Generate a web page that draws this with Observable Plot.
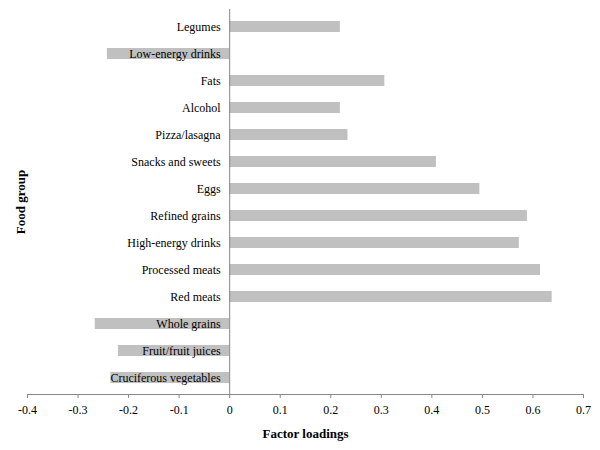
<!DOCTYPE html>
<html>
<head>
<meta charset="utf-8">
<script src="https://cdn.jsdelivr.net/npm/d3@7"></script>
<script src="https://cdn.jsdelivr.net/npm/@observablehq/plot@0.6"></script>
<style>
  html, body { margin: 0; padding: 0; background: #fff; }
  #chart { width: 600px; height: 450px; }
</style>
</head>
<body>
<div id="chart"></div>
<script>
const foodGroups = [
  "Legumes", "Low-energy drinks", "Fats", "Alcohol", "Pizza/lasagna",
  "Snacks and sweets", "Eggs", "Refined grains", "High-energy drinks",
  "Processed meats", "Red meats", "Whole grains", "Fruit/fruit juices",
  "Cruciferous vegetables"
];
const loadings = [
  0.219, -0.242, 0.307, 0.219, 0.234,
  0.409, 0.495, 0.589, 0.573,
  0.615, 0.638, -0.266, -0.220,
  -0.235
];
const xTicks = [-0.4, -0.3, -0.2, -0.1, 0, 0.1, 0.2, 0.3, 0.4, 0.5, 0.6, 0.7];
const xTitle = "Factor loadings";
const yTitle = "Food group";

const data = foodGroups.map((f, i) => ({food: f, value: loadings[i]}));
const font = "'Liberation Serif', 'Times New Roman', serif";

const chart = Plot.plot({
  width: 600,
  height: 450,
  marginLeft: 27,
  marginRight: 17,
  marginTop: 9,
  marginBottom: 56,
  style: {fontFamily: font, fontSize: "12px", color: "#000", background: "#fff"},
  x: {domain: [-0.4, 0.7], ticks: xTicks, axis: null},
  y: {domain: foodGroups, paddingInner: 0.6, paddingOuter: 0.3, axis: null},
  marks: [
    Plot.barX(data, {x1: 0, x2: "value", y: "food", fill: "#c0c0c0"}),
    Plot.ruleX([0], {stroke: "#878787", strokeWidth: 1}),
    Plot.frame({anchor: "bottom", stroke: "#878787"}),
    Plot.axisX({
      ticks: xTicks,
      tickSize: 4,
      tickPadding: 7,
      stroke: "#878787",
      fill: "#000",
      fontSize: 12,
      tickFormat: d => String(+(+d).toFixed(1)),
      label: null
    }),
    Plot.text(data, {
      x: () => 0, y: "food", text: "food",
      textAnchor: "end", dx: -9, fill: "#000", fontSize: 12
    }),
    Plot.text([xTitle], {
      frameAnchor: "bottom", text: d => d, dy: 39, textAnchor: "middle",
      fontWeight: "bold", fontSize: 13, fill: "#000", lineAnchor: "middle"
    }),
    Plot.text([yTitle], {
      frameAnchor: "left", text: d => d, dx: -7, rotate: -90, textAnchor: "middle",
      fontWeight: "bold", fontSize: 13, fill: "#000", lineAnchor: "middle"
    })
  ]
});
document.getElementById("chart").appendChild(chart);
</script>
</body>
</html>
